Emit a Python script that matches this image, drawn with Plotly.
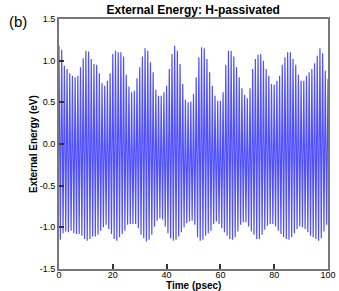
import plotly.graph_objects as go

# Upper extremes of the oscillation (eV), one per psec, t = 0..100
time_upper_psec = [float(i) for i in range(0, 101)]
upper_energy_ev = [
    1.18, 1.13, 0.94, 0.90, 0.85, 0.82, 0.80, 0.82, 0.92, 1.03,
    1.12, 1.11, 1.02, 0.96, 0.95, 0.85, 0.73, 0.70, 0.76, 0.85,
    1.08, 1.12, 1.10, 1.10, 1.05, 0.83, 0.69, 0.62, 0.64, 0.79,
    0.92, 1.05, 1.15, 1.12, 0.98, 0.86, 0.65, 0.58, 0.58, 0.62,
    0.70, 0.90, 1.08, 1.18, 1.12, 0.96, 0.72, 0.53, 0.50, 0.51,
    0.60, 0.80, 1.04, 1.16, 1.15, 1.02, 0.86, 0.70, 0.58, 0.52,
    0.52, 0.62, 0.95, 1.12, 1.12, 1.05, 0.92, 0.80, 0.67, 0.59,
    0.55, 0.67, 0.90, 1.02, 1.07, 1.08, 1.00, 0.90, 0.82, 0.72,
    0.71, 0.76, 0.82, 0.95, 1.04, 1.10, 1.10, 1.02, 0.95, 0.83,
    0.76, 0.76, 0.82, 0.86, 0.90, 0.97, 1.06, 1.15, 1.09, 0.88,
    0.78,
]

# Lower extremes of the oscillation (eV), one per psec, t = 0.5..99.5
time_lower_psec = [i + 0.5 for i in range(0, 100)]
lower_energy_ev = [
    -1.15, -1.07, -1.05, -1.06, -1.04, -1.07, -1.08, -1.08, -1.10, -1.14,
    -1.16, -1.14, -1.11, -1.11, -1.09, -1.04, -1.00, -0.97, -1.02, -1.08,
    -1.14, -1.16, -1.12, -1.08, -1.04, -0.97, -0.96, -0.96, -0.96, -1.01,
    -1.09, -1.13, -1.17, -1.15, -1.09, -0.99, -0.92, -0.89, -0.91, -0.99,
    -1.07, -1.13, -1.16, -1.15, -1.11, -1.06, -1.00, -0.95, -0.93, -0.92,
    -0.97, -1.12, -1.16, -1.15, -1.10, -1.07, -1.04, -0.96, -0.93, -0.96,
    -1.01, -1.06, -1.10, -1.14, -1.15, -1.12, -1.05, -0.97, -0.94, -0.94,
    -0.99, -1.05, -1.09, -1.14, -1.14, -1.09, -1.03, -0.98, -0.96, -0.96,
    -0.99, -1.04, -1.08, -1.12, -1.14, -1.15, -1.12, -1.07, -1.02, -0.99,
    -1.00, -1.02, -1.06, -1.10, -1.12, -1.14, -1.16, -1.13, -1.05, -0.97,
]

x_ticks = [0, 20, 40, 60, 80, 100]
y_ticks = [-1.5, -1.0, -0.5, 0.0, 0.5, 1.0, 1.5]
y_tick_labels = ["-1.5", "-1.0", "-0.5", "0.0", "0.5", "1.0", "1.5"]

# Interleave maxima and minima in time order
pts = sorted(list(zip(time_upper_psec, upper_energy_ev)) + list(zip(time_lower_psec, lower_energy_ev)))
t_all = [p[0] for p in pts]
e_all = [p[1] for p in pts]

fig = go.Figure()
fig.add_trace(go.Scatter(
    x=t_all, y=e_all, mode="lines",
    line=dict(color="rgb(80,80,255)", width=1.2),
    showlegend=False, hoverinfo="skip",
))

font_family = "Liberation Sans, Arial, sans-serif"
fig.update_layout(
    width=339, height=291,
    margin=dict(l=59, r=11, t=19, b=22, autoexpand=False),
    paper_bgcolor="white", plot_bgcolor="white",
    font=dict(family=font_family, size=9, color="black"),
    title=dict(text="<b>External Energy: H-passivated</b>", x=0.57, xanchor="center",
               y=0.965, yanchor="middle", font=dict(size=12, family=font_family)),
    xaxis=dict(
        range=[0, 100], tickmode="array", tickvals=x_ticks, ticktext=[str(v) for v in x_ticks],
        ticks="inside", ticklen=5, tickwidth=1.5, tickcolor="#333",
        showline=True, linecolor="#777", linewidth=2, mirror=True,
        showgrid=False, zeroline=False, automargin=False,
        ticklabelstandoff=-4,
        tickfont=dict(size=9),
    ),
    yaxis=dict(
        range=[-1.5, 1.5], tickmode="array", tickvals=y_ticks, ticktext=y_tick_labels,
        ticks="inside", ticklen=5, tickwidth=1.5, tickcolor="#333",
        showline=True, linecolor="#777", linewidth=2, mirror=True,
        showgrid=False, zeroline=False, automargin=False,
        tickfont=dict(size=9),
    ),
    annotations=[
        dict(text="(b)", x=0.0, y=1.0, xref="paper", yref="paper",
             xshift=-52, yshift=-2, xanchor="left", yanchor="middle",
             showarrow=False, font=dict(size=15, family=font_family)),
        dict(text="<b>Time (psec)</b>", x=0.5, y=0.0, xref="paper", yref="paper",
             yshift=-16.5, xanchor="center", yanchor="middle",
             showarrow=False, font=dict(size=10, family=font_family)),
        dict(text="<b>External Energy (eV)</b>", x=0.0, y=0.5, xref="paper", yref="paper",
             xshift=-26, xanchor="center", yanchor="middle", textangle=-90,
             showarrow=False, font=dict(size=10, family=font_family)),
    ],
)

fig.write_html("out.html", config={"displayModeBar": False},
               post_script="document.body.style.margin='0px';")
